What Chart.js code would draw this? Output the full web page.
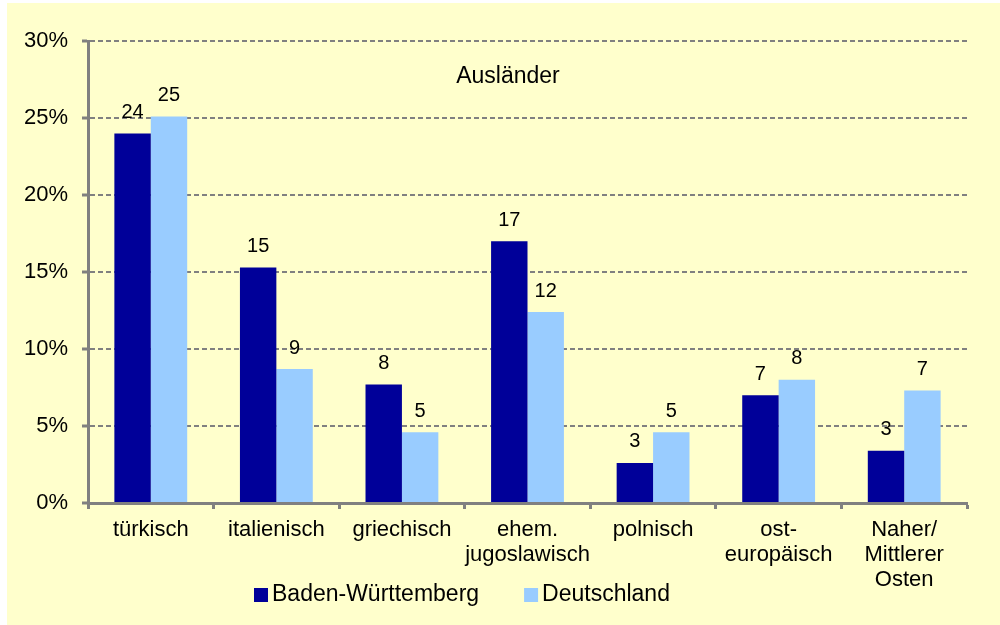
<!DOCTYPE html>
<html>
<head>
<meta charset="utf-8">
<script src="https://cdn.jsdelivr.net/npm/chart.js@4.4.1/dist/chart.umd.min.js"></script>
<style>
  html, body { margin: 0; padding: 0; background: #ffffff; }
  canvas { display: block; }
</style>
</head>
<body>
<canvas id="c" width="1000" height="625"></canvas>
<script>
// ---- Data ----
const categories = [
  'türkisch',
  'italienisch',
  'griechisch',
  ['ehem.', 'jugoslawisch'],
  'polnisch',
  ['ost-', 'europäisch'],
  ['Naher/', 'Mittlerer', 'Osten']
];
const seriesNames = ['Baden-Württemberg', 'Deutschland'];
const badenWuerttemberg = [24.0, 15.3, 7.7, 17.0, 2.6, 7.0, 3.4];
const deutschland = [25.1, 8.7, 4.6, 12.4, 4.6, 8.0, 7.3];
const yTicks = [0, 5, 10, 15, 20, 25, 30];
const chartTitle = 'Ausländer';

const FONT = '"Liberation Sans", Arial, Helvetica, sans-serif';
const colors = ['#000099', '#99CCFF'];

const backgroundPlugin = {
  id: 'bg',
  beforeDraw(chart) {
    const ctx = chart.ctx;
    ctx.save();
    ctx.fillStyle = '#ffffff';
    ctx.fillRect(0, 0, chart.width, chart.height);
    ctx.fillStyle = '#FFFFCC';
    ctx.fillRect(7, 3, chart.width - 7, chart.height - 3);
    ctx.restore();
  }
};

const valueLabelPlugin = {
  id: 'valueLabels',
  afterDatasetsDraw(chart) {
    const ctx = chart.ctx;
    ctx.save();
    ctx.font = '20px ' + FONT;
    ctx.fillStyle = '#000000';
    ctx.textAlign = 'center';
    ctx.textBaseline = 'middle';
    chart.data.datasets.forEach((ds, di) => {
      const meta = chart.getDatasetMeta(di);
      meta.data.forEach((bar, i) => {
        ctx.fillText(String(Math.round(ds.data[i])), bar.x, bar.y - 21);
      });
    });
    ctx.restore();
  }
};

const titleAndLegendPlugin = {
  id: 'titleLegend',
  afterDraw(chart) {
    const ctx = chart.ctx;
    ctx.save();
    ctx.font = '23px ' + FONT;
    ctx.fillStyle = '#000000';
    ctx.textBaseline = 'middle';
    ctx.textAlign = 'center';
    ctx.fillText(chartTitle, 508, 77);

    // legend
    ctx.textAlign = 'left';
    let x = 254;
    const y = 595;
    chart.data.datasets.forEach((ds, di) => {
      ctx.fillStyle = ds.backgroundColor;
      ctx.fillRect(x, y - 7, 14, 14);
      ctx.fillStyle = '#000000';
      ctx.fillText(ds.label, x + 18, y);
      x += 18 + ctx.measureText(ds.label).width + 45;
    });
    ctx.restore();
  }
};

new Chart(document.getElementById('c'), {
  type: 'bar',
  data: {
    labels: categories,
    datasets: [
      { label: seriesNames[0], data: badenWuerttemberg, backgroundColor: colors[0], borderWidth: 0 },
      { label: seriesNames[1], data: deutschland, backgroundColor: colors[1], borderWidth: 0 }
    ]
  },
  options: {
    responsive: false,
    animation: false,
    devicePixelRatio: 1,
    layout: { padding: { left: 0, right: 33, top: 41, bottom: 0 } },
    datasets: { bar: { categoryPercentage: 0.58, barPercentage: 1.0 } },
    plugins: {
      legend: { display: false },
      title: { display: false },
      tooltip: { enabled: false }
    },
    scales: {
      x: {
        offset: true,
        grid: {
          drawOnChartArea: false,
          drawTicks: true,
          tickLength: 6,
          tickWidth: 3,
          tickColor: '#808080'
        },
        border: { display: true, color: '#808080', width: 3 },
        ticks: {
          color: '#000000',
          font: { family: FONT, size: 22, lineHeight: 1.15 },
          padding: 8,
          maxRotation: 0,
          autoSkip: false
        },
        afterFit(scale) { scale.height = 122; }
      },
      y: {
        min: 0,
        max: 30,
        afterBuildTicks(scale) { scale.ticks = yTicks.map(v => ({ value: v })); },
        grid: {
          color: '#808080',
          lineWidth: 2,
          drawTicks: true,
          tickLength: 6,
          tickWidth: 3,
          tickColor: '#808080',
          tickBorderDash: []
        },
        border: { display: true, color: '#808080', width: 3, dash: [5, 3] },
        ticks: {
          color: '#000000',
          font: { family: FONT, size: 22 },
          padding: 14,
          callback: (v) => v + '%'
        },
        afterFit(scale) { scale.width = 88; }
      }
    }
  },
  plugins: [backgroundPlugin, valueLabelPlugin, titleAndLegendPlugin]
});
</script>
</body>
</html>
